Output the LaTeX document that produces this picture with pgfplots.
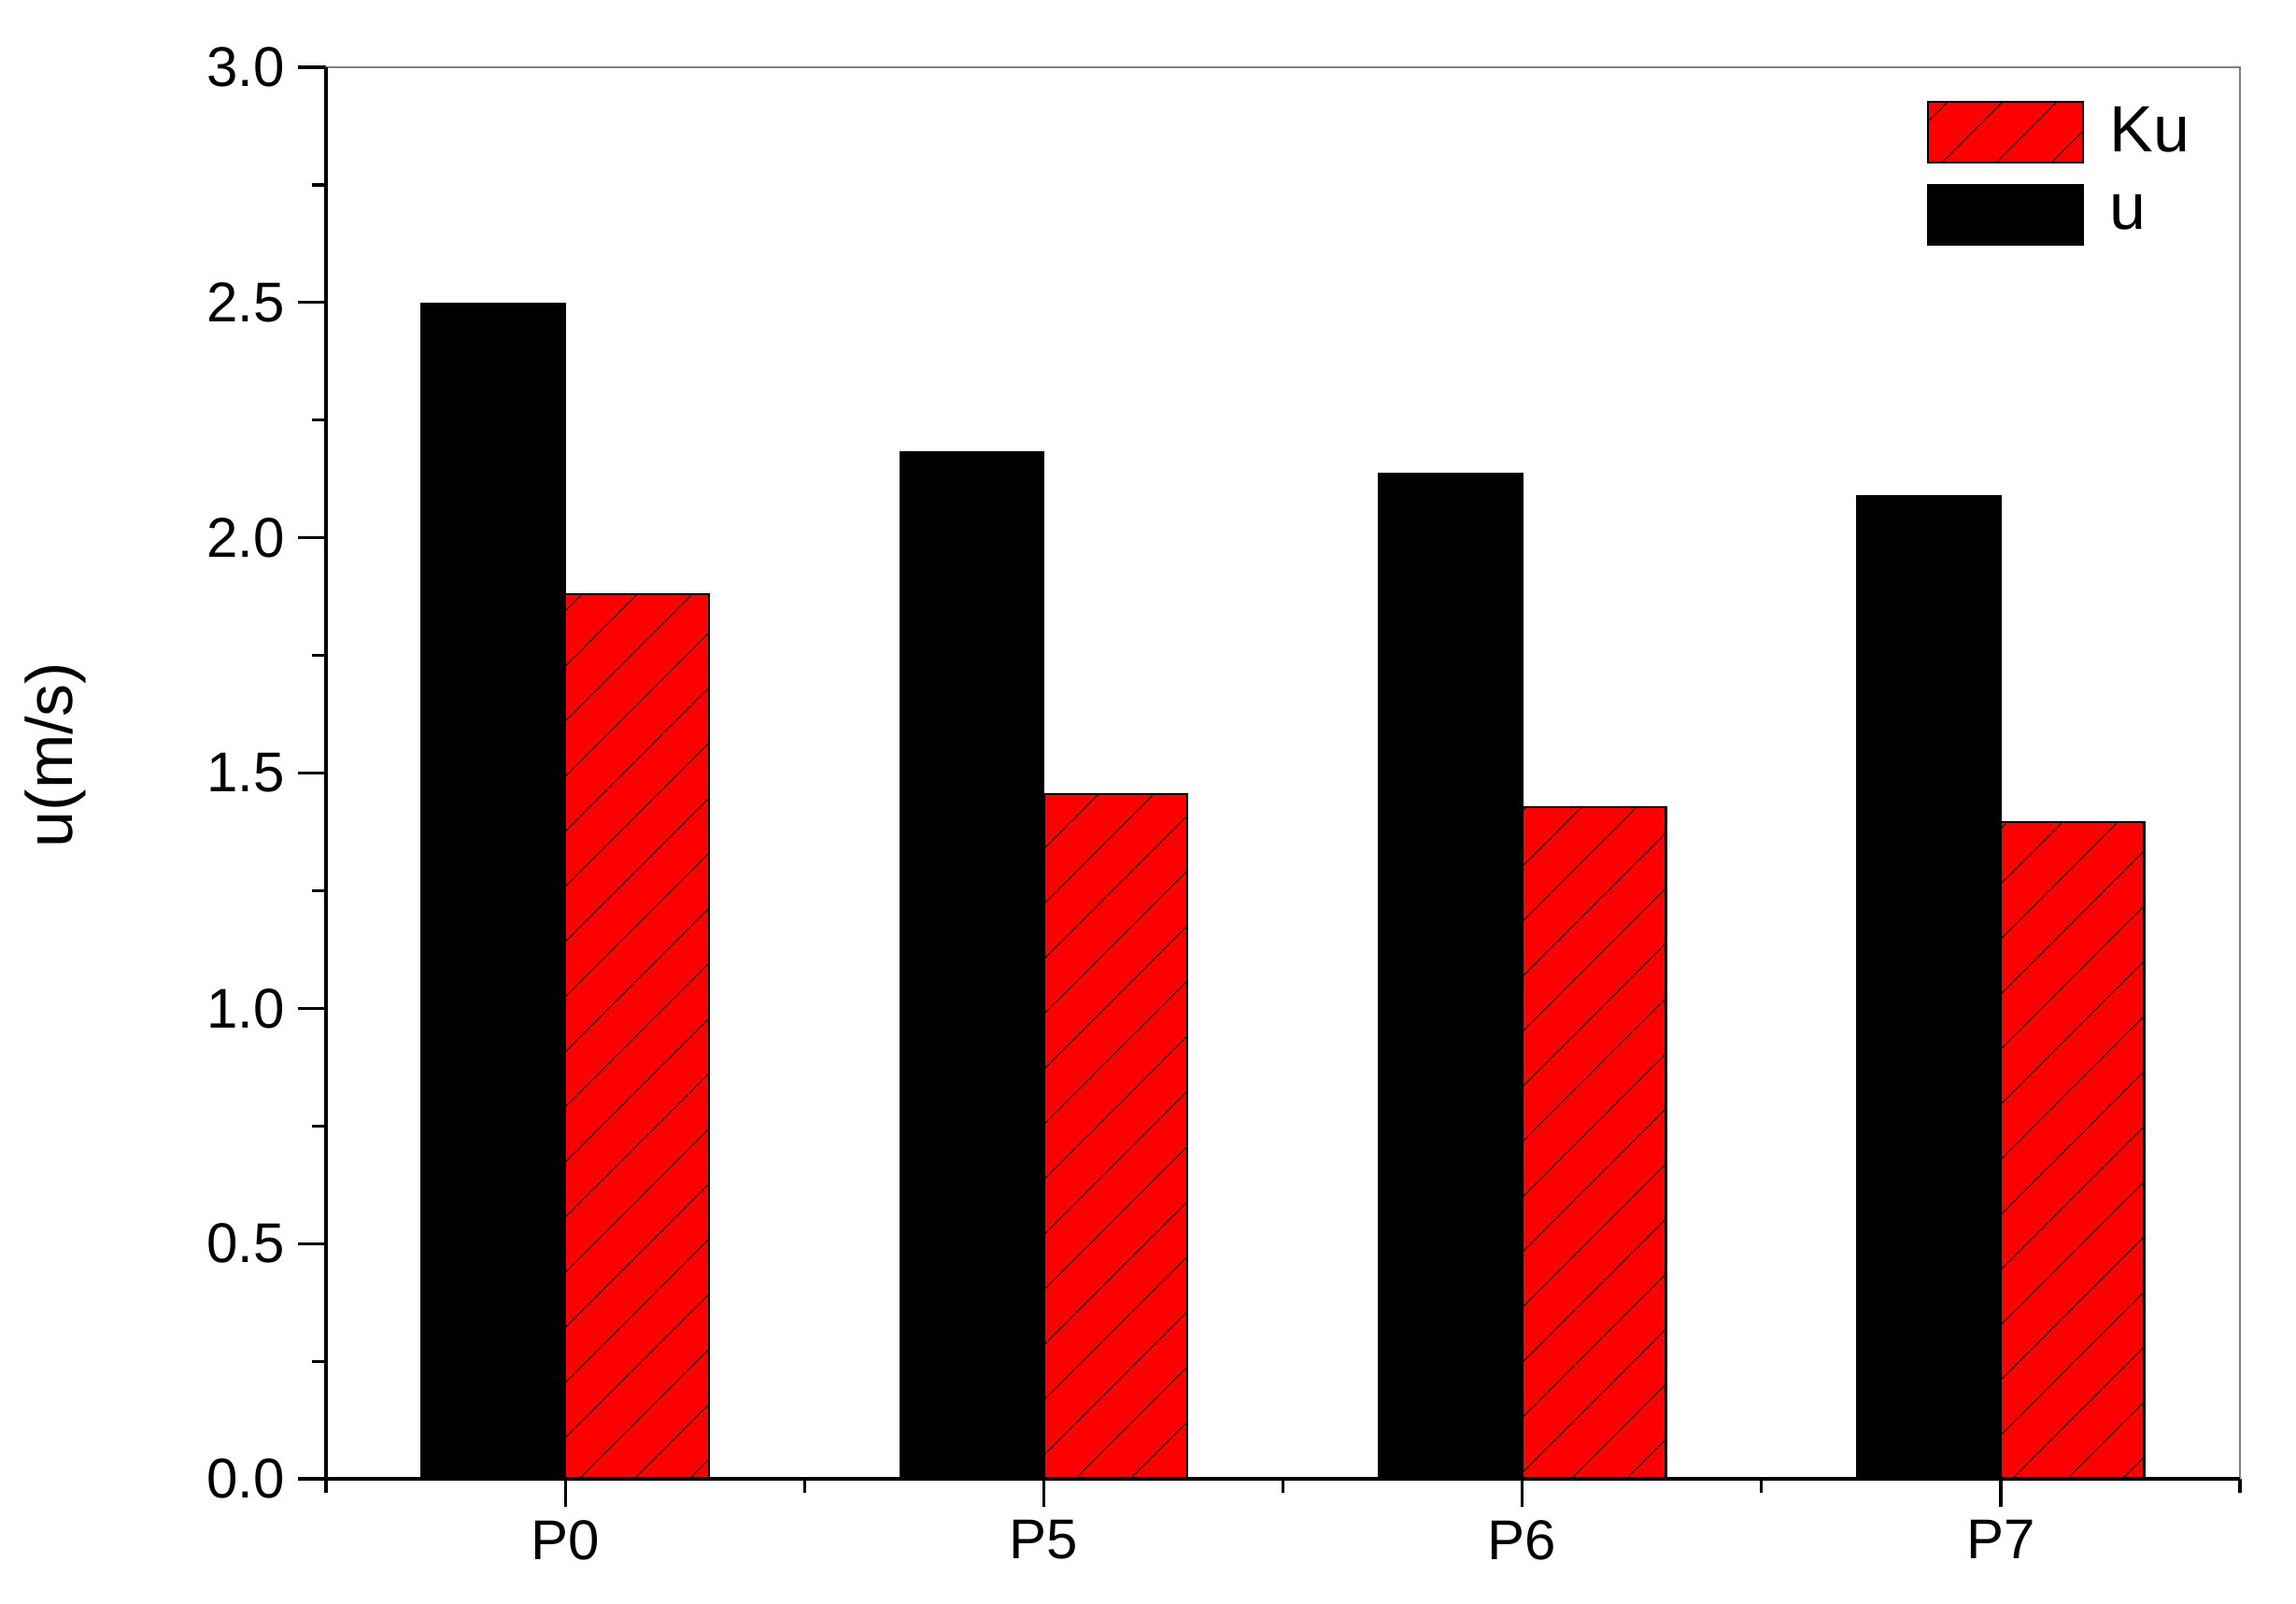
\documentclass[border=0pt]{standalone}
\usepackage{pgfplots}
\pgfplotsset{compat=1.18}
\usepackage{fontspec}
\setmainfont{Liberation Sans}
\usetikzlibrary{patterns.meta}
\begin{document}
\begin{tikzpicture}
\useasboundingbox (-87.25pt,-33.25pt) rectangle (527.25pt,395.75pt);
\begin{axis}[
  scale only axis,
  width=512.25pt, height=377.75pt,
  xmin=-0.5, xmax=3.5, ymin=0, ymax=3,
  ybar, bar width=0.3,
  clip=false,
  xtick={0,1,2,3},
  xticklabels={P0,P5,P6,P7},
  minor xtick={-0.5,0.5,1.5,2.5,3.5},
  ytick={0,0.5,1,1.5,2,2.5,3},
  minor ytick={0.25,0.75,1.25,1.75,2.25,2.75},
  xtick pos=bottom, ytick pos=left,
  tick align=outside,
  major tick length=7.5pt, minor tick length=3.75pt,
  tick style={black, line width=0.8pt},
  axis line style={draw=gray, line width=0.5pt},
  /pgf/number format/assume math mode=true,
  yticklabel style={font=\fontsize{15}{18}\selectfont, /pgf/number format/.cd, fixed, fixed zerofill, precision=1},
  xticklabel style={font=\fontsize{15}{18}\selectfont},
  ylabel={u(m/s)},
  every axis y label/.style={at={(axis description cs:-0.1415,0.513)}, anchor=center, rotate=90, font=\fontsize{17.5}{20}\selectfont},
  legend cell align=left,
  legend style={draw=none, fill=none, at={(axis description cs:0.83,0.983)}, anchor=north west, font=\fontsize{17.5}{20}\selectfont, row sep=5pt, /tikz/every odd column/.append style={column sep=5pt}},
  legend image code/.code={\draw[#1] (0pt,-8.1pt) rectangle (41.5pt,8.1pt);},
  reverse legend,
]
\addplot[bar shift=-0.15, fill=black, draw=black, line width=0.5pt] coordinates {(0,2.497) (1,2.182) (2,2.136) (3,2.089)};
\addlegendentry{u}
\addplot[bar shift=0.15, fill=red, draw=black, line width=0.6pt,
  postaction={pattern={Lines[angle=45,distance=10.5pt,line width=0.3pt]}, pattern color=black}]
  coordinates {(0,1.880) (1,1.455) (2,1.427) (3,1.396)};
\addlegendentry{Ku}
\draw[black, line width=1pt] (rel axis cs:0,1) -- (rel axis cs:0,0) -- (rel axis cs:1,0);
\end{axis}
\end{tikzpicture}
\end{document}
